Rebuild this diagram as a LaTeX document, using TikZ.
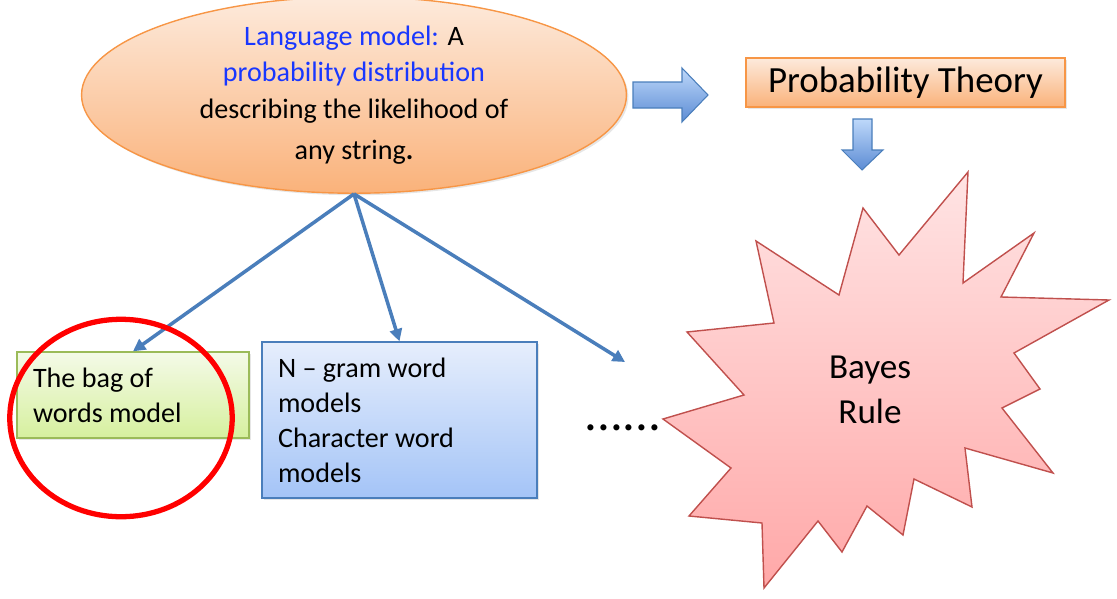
\documentclass[tikz,border=0pt]{standalone}
\usepackage{fontspec}
\setmainfont{Carlito}
\usetikzlibrary{shapes.geometric, arrows.meta, shadows, shadings}
\definecolor{lmorange}{RGB}{247,150,70}
\definecolor{lmpeach}{RGB}{253,234,220}
\definecolor{lmtan}{RGB}{250,178,122}
\definecolor{linkblue}{RGB}{74,126,187}
\definecolor{textblue}{RGB}{25,55,255}
\definecolor{arrowlight}{RGB}{190,216,250}
\definecolor{arrowdark}{RGB}{92,140,212}
\definecolor{bagtop}{RGB}{244,250,232}
\definecolor{bagbot}{RGB}{214,240,158}
\definecolor{bagline}{RGB}{155,187,89}
\definecolor{gramtop}{RGB}{230,238,252}
\definecolor{grambot}{RGB}{164,196,247}
\definecolor{starline}{RGB}{192,80,77}
\definecolor{startop}{RGB}{255,228,228}
\definecolor{starbot}{RGB}{255,168,168}

\begin{document}
\begin{tikzpicture}[
  x=0.02cm, y=-0.02cm,
  softshadow/.style={drop shadow={opacity=0.2, shadow xshift=0.04cm, shadow yshift=-0.04cm}},
  lmnode/.style={ellipse, draw=lmorange, line width=0.8pt, top color=lmpeach, bottom color=lmtan, minimum width=10.9cm, minimum height=3.6cm, inner sep=0pt, align=center, font=\fontsize{16}{19.4}\selectfont, softshadow},
  ptbox/.style={draw=lmorange, line width=0.8pt, top color=lmpeach, bottom color=lmtan, minimum width=6.38cm, minimum height=0.98cm, inner sep=0pt, font=\fontsize{21}{25}\selectfont, softshadow},
  bagbox/.style={draw=bagline, line width=0.8pt, top color=bagtop, bottom color=bagbot, minimum height=1.72cm, text width=4cm, inner xsep=0.32cm, inner ysep=0pt, align=flush left, font=\fontsize{16}{19.9}\selectfont, softshadow},
  grambox/.style={draw=linkblue, line width=0.8pt, top color=gramtop, bottom color=grambot, minimum height=3.12cm, text width=4.86cm, inner xsep=0.32cm, inner ysep=0pt, align=flush left, font=\fontsize{16}{19.9}\selectfont, softshadow},
  link/.style={draw=linkblue, line width=2pt, -{Triangle[length=7pt, width=7pt]}},
  bigarrow/.style={draw=linkblue, line width=0.6pt, top color=arrowlight, bottom color=arrowdark}
]
  \useasboundingbox (0,0) rectangle (1117,599);

  % top: the language model and where it leads
  \node[lmnode] (lm) at (354,95) {\textcolor{textblue}{Language model:} A\\[1.5pt]
    \textcolor{textblue}{probability distribution}\\[1.5pt]
    describing the likelihood of\\[4pt]
    any string\textbf{.}};
  \path[bigarrow] (633,82) -- (682,82) -- (682,68) -- (708,95) -- (682,122) -- (682,108) -- (633,108) -- cycle;
  \node[ptbox] (pt) at (905.5,82.5) {Probability Theory};
  \path[bigarrow] (853,119) -- (872,119) -- (872,150) -- (883,150) -- (862,170) -- (842,150) -- (853,150) -- cycle;

  % the star
  \draw[draw=starline, line width=0.8pt, top color=startop, bottom color=starbot]
    (968,172) -- (963,283) -- (1034,233) -- (1001,297) -- (1109,300) -- (1014,353)
    -- (1040,389) -- (1002,408) -- (1053,473) -- (965,448) -- (972,507) -- (914,479)
    -- (903,535) -- (867,506) -- (842,552) -- (818,521) -- (764,588) -- (762,523)
    -- (689,516) -- (731,468) -- (663,419) -- (744,395) -- (687,332) -- (774,323)
    -- (756,241) -- (839,295) -- (863,208) -- (899,255) -- cycle;
  \node[align=center, font=\fontsize{20}{25.5}\selectfont] (bayes) at (870,390) {Bayes\\Rule};

  % bottom row
  \node[bagbox] (bag) at (133,395) {The bag of\\words model};
  \node[grambox] (gram) at (399.5,420) {N -- gram word\\models\\Character word\\models};
  \node[anchor=base west, inner sep=0pt, font=\fontsize{29}{30}\selectfont] (dots) at (584,430) {......};
  \coordinate (more) at (625,362);

  \draw[link] (lm.south) -- (bag.north);
  \draw[link] (lm.south) -- (gram.north);
  \draw[link] (lm.south) -- (more);

  % red ring round the bag of words
  \node[ellipse, draw=red, line width=3pt, minimum width=4.45cm, minimum height=3.95cm, inner sep=0pt] (ring) at (121,418) {};
\end{tikzpicture}
\end{document}
